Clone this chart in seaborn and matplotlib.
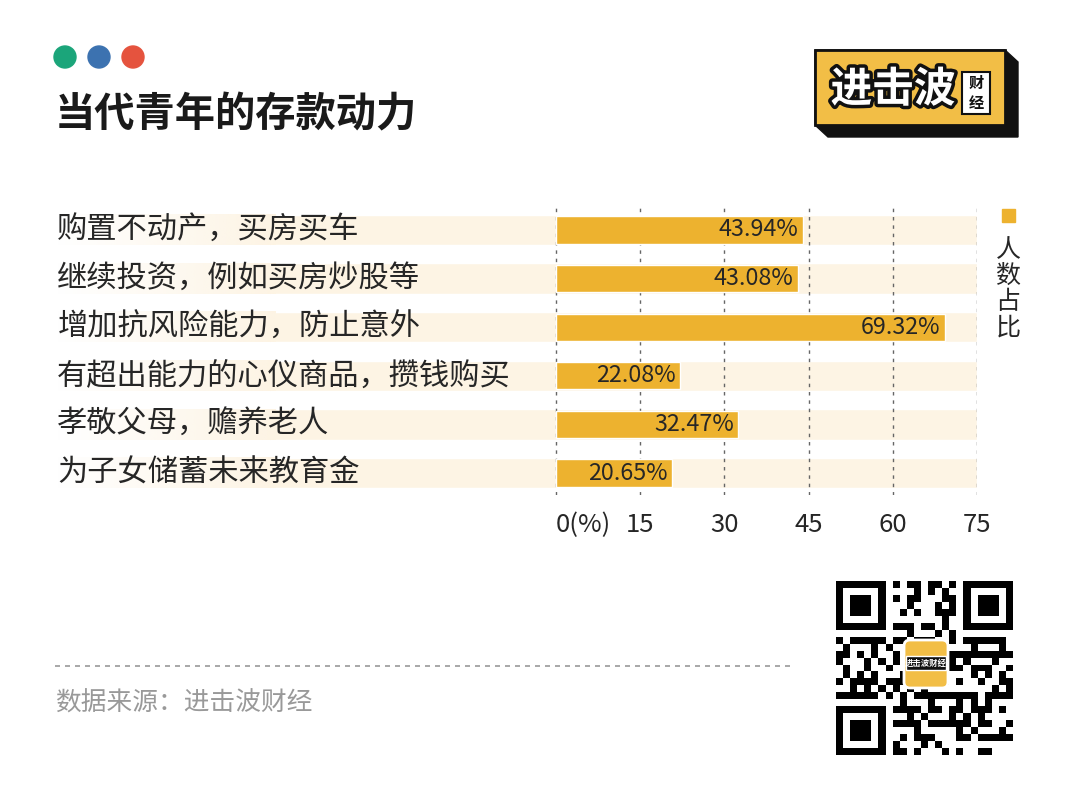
import numpy as np
import pandas as pd
import matplotlib.pyplot as plt
import matplotlib.patheffects as pe
from matplotlib.colors import to_rgb
from matplotlib.patches import Rectangle, Circle, Polygon, FancyBboxPatch
import seaborn as sns

sns.set_theme(style='white')
plt.rcParams['font.family'] = ['Noto Sans CJK SC', 'DejaVu Sans']

# data
categories = ['购置不动产，买房买车', '继续投资，例如买房炒股等', '增加抗风险能力，防止意外',
              '有超出能力的心仪商品，攒钱购买', '孝敬父母，赡养老人', '为子女储蓄未来教育金']
values = [43.94, 43.08, 69.32, 22.08, 32.47, 20.65]
xticks = [0, 15, 30, 45, 60, 75]
xtick_labels = ['0(%)', '15', '30', '45', '60', '75']
legend_label = '人数占比'

bar_color = '#EDB22F'
stripe_color = '#FDF4E4'
text_color = '#262626'

fig = plt.figure(figsize=(10.8, 7.97), dpi=100)
fig.patch.set_facecolor('white')

# full-figure layer in pixel units for the decorations
deco = fig.add_axes([0, 0, 1, 1])
deco.axis('off')

ax = fig.add_axes([55 / 1080, 1 - 495 / 797, 922 / 1080, 287 / 797])
ax.patch.set_alpha(0)

df = pd.DataFrame({'item': categories, 'pct': values})
x_left = -89.3
x_fade = -50

# background stripes (fading in on the left), grid, bars
ax.barh(range(len(categories)), [75 - x_fade + 1] * len(categories), left=x_fade - 1,
        height=0.62, color=stripe_color, zorder=0)
grad = np.zeros((1, 64, 4))
grad[..., :3] = to_rgb(stripe_color)
grad[..., 3] = np.linspace(0, 1, 64)
for i in range(len(categories)):
    ax.imshow(grad, extent=(x_left, x_fade, i + 0.31, i - 0.31), aspect='auto',
              interpolation='bilinear', zorder=0)
for t in xticks:
    ax.axvline(t, color='#666666', lw=1, ls=(0, (2.5, 3.5)), zorder=1)
sns.barplot(data=df, x='pct', y='item', color=bar_color, saturation=1,
            width=0.56, ax=ax, zorder=3)

ax.set_xlim(x_left, 75)
ax.set_ylim(5.45, -0.45)
for s in ax.spines.values():
    s.set_visible(False)
ax.set_xlabel('')
ax.set_ylabel('')
ax.set_yticks([])
ax.set_xticks(xticks, xtick_labels, fontsize=18.5, color=text_color)
ax.tick_params(axis='x', length=0, pad=12)
ax.get_xticklabels()[0].set_ha('left')

for i, (c, v) in enumerate(zip(categories, values)):
    ax.text(x_left + 0.4, i, c, fontsize=21.8, ha='left', va='center', color=text_color)
    ax.text(v - 0.8, i, f'{v:.2f}%', fontsize=16.8, ha='right', va='center',
            color=text_color, zorder=4)

# legend
deco.add_patch(Rectangle((1002, 209), 13, 13, color=bar_color))
for k, ch in enumerate(legend_label):
    deco.text(1008, 250 + 26 * k, ch, fontsize=18, ha='center', va='center', color=text_color)

# title and dots
deco.text(55, 115, '当代青年的存款动力', fontsize=29, fontweight='bold',
          ha='left', va='center', color='#1a1a1a')
for cx, col in zip([65, 99, 133], ['#1BA57A', '#3C72B0', '#E5533E']):
    deco.add_patch(Circle((cx, 57), 11, color=col))

# logo
deco.add_patch(Polygon([(815, 50), (1005, 50), (1018, 62), (1018, 137), (828, 137), (815, 125)],
                       closed=True, color='#111111'))
deco.add_patch(Rectangle((815, 50), 190, 75, fc='#F2BE46', ec='#111111', lw=2))
deco.text(893, 90, '进击波', fontsize=30, fontweight='bold', color='white', ha='center',
          va='center', path_effects=[pe.withStroke(linewidth=5, foreground='#111111')])
deco.add_patch(Rectangle((962, 72), 28, 42, fc='white', ec='#111111', lw=1.5))
deco.text(976, 83, '财', fontsize=11, fontweight='bold', ha='center', va='center', color='#111111')
deco.text(976, 103, '经', fontsize=11, fontweight='bold', ha='center', va='center', color='#111111')

# QR-like block
n = 25
ii, jj = np.meshgrid(np.arange(n), np.arange(n), indexing='ij')
qr = ((((ii * 7 + jj * 11) ^ (ii * jj)) % 3 != 0) & ((ii + 2 * jj) % 4 != 1)).astype(float)
for (r, c) in [(0, 0), (0, n - 7), (n - 7, 0)]:
    qr[max(r - 1, 0):r + 8, max(c - 1, 0):c + 8] = 0
    qr[r:r + 7, c:c + 7] = 1
    qr[r + 1:r + 6, c + 1:c + 6] = 0
    qr[r + 2:r + 5, c + 2:c + 5] = 1
deco.imshow(qr, cmap='gray_r', extent=(836, 1013, 755, 581), interpolation='nearest',
            vmin=0, vmax=1, zorder=1)
deco.add_patch(FancyBboxPatch((906, 642), 40, 44, boxstyle='round,pad=2,rounding_size=6',
                              fc='#F2BE46', ec='white', lw=2, zorder=2))
deco.add_patch(Rectangle((906, 656), 40, 14, fc='#111111', zorder=2.5))
deco.text(926, 663, '进击波财经', fontsize=6, fontweight='bold', color='white', ha='center',
          va='center', zorder=3)

# footer
deco.plot([55, 790], [666, 666], color='#999999', lw=1.2, ls=(0, (3, 3)))
deco.text(55, 704, '数据来源：进击波财经', fontsize=18.5, color='#999999', ha='left', va='center')

deco.set_xlim(0, 1080)
deco.set_ylim(797, 0)
deco.set_aspect('auto')

fig.savefig('out.png', dpi=100)
